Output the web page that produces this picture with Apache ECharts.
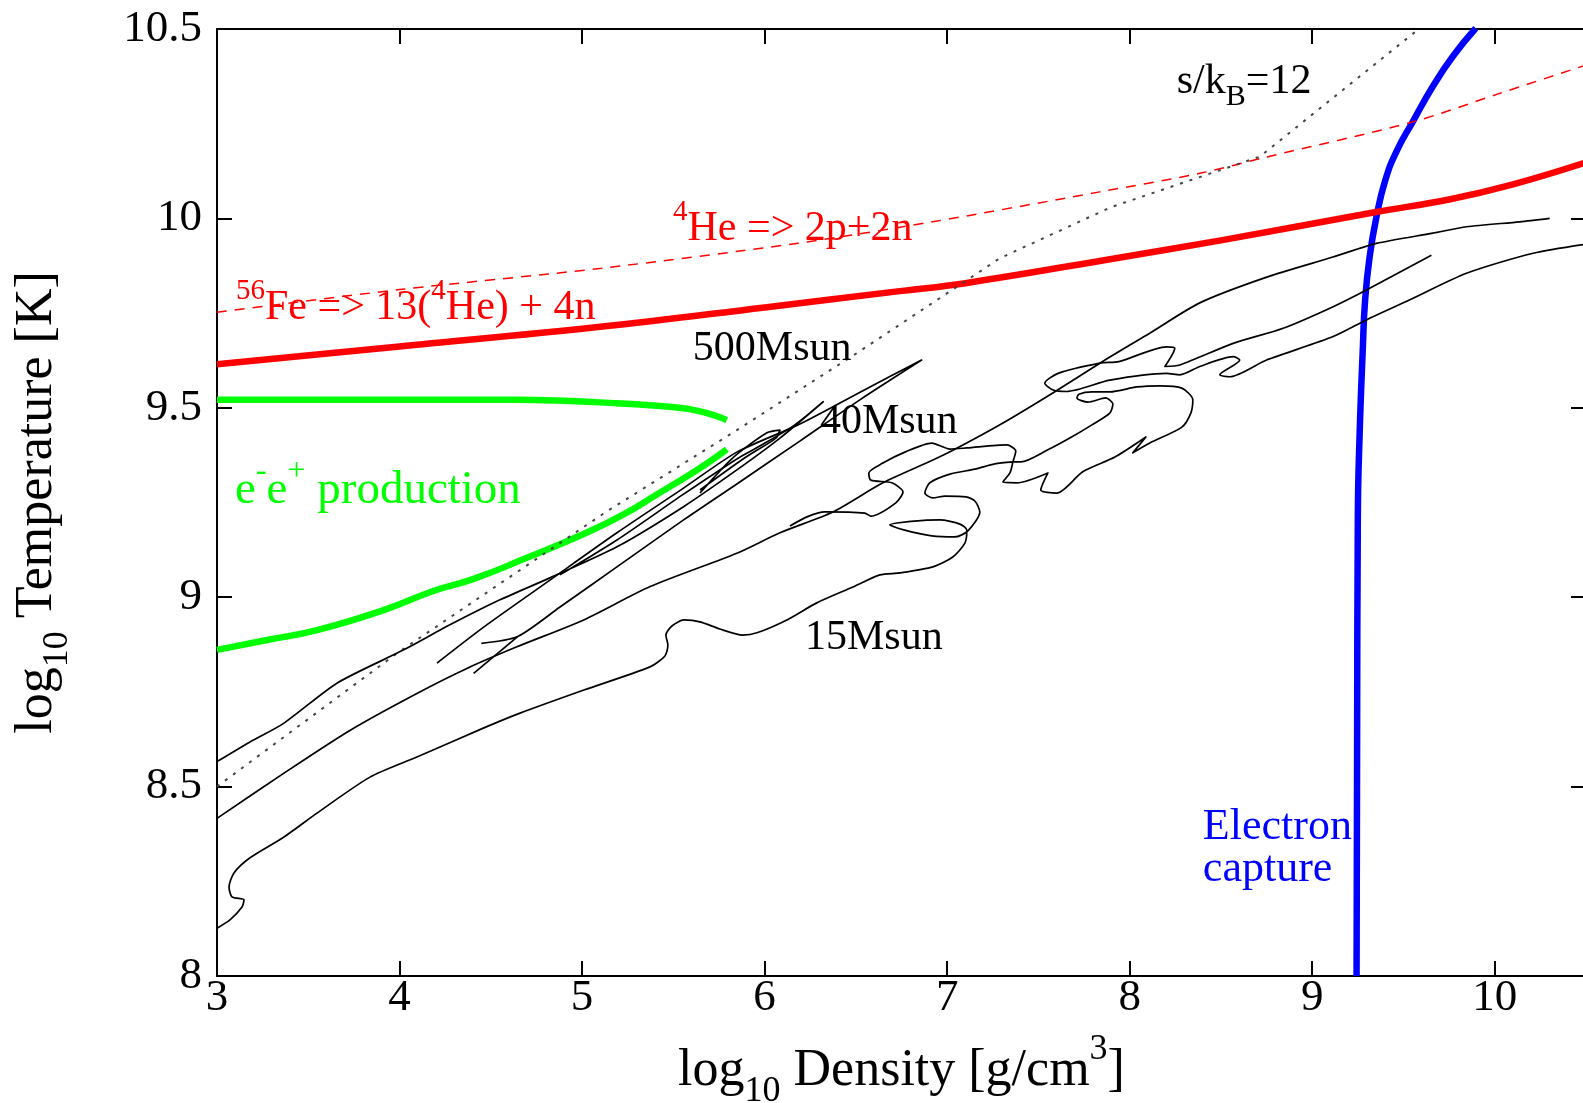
<!DOCTYPE html>
<html>
<head>
<meta charset="utf-8">
<script src="https://cdn.jsdelivr.net/npm/echarts@6/dist/echarts.min.js"></script>
<style>
  html, body { margin: 0; padding: 0; background: #ffffff; }
  #chart { width: 1583px; height: 1103px; }
</style>
</head>
<body>
<div id="chart"></div>
<script>
// ---- Axis ticks: log10 density [g/cm^3] and log10 temperature [K] ----
const densityTicks = [3, 4, 5, 6, 7, 8, 9, 10];
const temperatureTicks = [8, 8.5, 9, 9.5, 10, 10.5];

// ---- Boundary curves: [log10 rho, log10 T] ----
const fe56Dissociation = [[3.0,9.615],[4.0,9.662],[5.1,9.714],[6.0,9.765],[6.74,9.808],[7.1,9.829],[7.9,9.893],[8.5,9.942],[9.35,10.017],[9.75,10.05],[10.1,10.09],[10.5,10.148]];
const he4Dissociation = [[3.0,9.752],[4.0,9.812],[5.098,9.868],[6.175,9.934],[6.92,9.991],[7.836,10.07],[8.384,10.119],[8.75,10.162],[9.553,10.255],[10.027,10.33],[10.5,10.405]];
const entropy12 = [[3.0,8.50],[3.986,8.852],[5.134,9.226],[5.848,9.441],[6.504,9.644],[7.124,9.842],[7.289,9.895],[7.9,10.03],[8.713,10.163],[9.589,10.502]];
const pairUpper = [[3.0,9.521],[4.0,9.521],[4.643,9.521],[5.19,9.512],[5.556,9.499],[5.684,9.486],[5.793,9.468]];
const pairLower = [[5.793,9.390],[5.684,9.353],[5.571,9.318],[5.405,9.270],[5.24,9.222],[5.018,9.169],[4.687,9.102],[4.41,9.049],[4.189,9.017],[3.913,8.966],[3.548,8.913],[3.274,8.887],[3.0,8.861]];
const electronCapture = [[9.243,8.0],[9.246,8.6],[9.25,9.212],[9.26,9.433],[9.277,9.653],[9.29,9.785],[9.315,9.9],[9.352,10.004],[9.40,10.10],[9.46,10.175],[9.553,10.257],[9.663,10.35],[9.774,10.43],[9.896,10.502]];

// ---- Stellar evolution tracks (each track is a list of pieces) ----
const track15Msun = [
  [[3.000,8.126],[3.071,8.148],[3.137,8.182],[3.148,8.201],[3.082,8.209],[3.066,8.235],[3.093,8.272],[3.181,8.312],[3.367,8.367],[3.548,8.430],[3.838,8.525],[4.095,8.578],[4.462,8.655],[4.660,8.694],[5.010,8.755],[5.372,8.816],[5.454,8.845],[5.470,8.874],[5.459,8.900],[5.492,8.924],[5.558,8.940],[5.646,8.935],[5.755,8.916],[5.881,8.900],[5.958,8.906],[6.122,8.940],[6.286,8.985],[6.484,9.027],[6.632,9.059],[6.741,9.064],[6.922,9.080],[7.031,9.106],[7.097,9.143],[7.108,9.177],
   [7.070,9.193],[6.960,9.204],[6.823,9.201],[6.686,9.191],[6.768,9.177],[6.916,9.162],[7.042,9.159],[7.114,9.175],
   [7.179,9.225],[7.152,9.254],[7.103,9.265],[6.988,9.267],[6.922,9.262],[6.878,9.275],[6.905,9.302],[7.015,9.325],[7.152,9.338],[7.261,9.352],[7.360,9.357],
   [7.344,9.328],[7.305,9.304],[7.382,9.302],[7.552,9.328],[7.513,9.283],[7.601,9.275],[7.743,9.331],[7.919,9.370],[8.089,9.423],[8.017,9.381],[8.110,9.407],[8.286,9.449],[8.335,9.486],[8.346,9.521],[8.286,9.552],[8.165,9.558],[8.039,9.555],[7.891,9.542],[7.793,9.542],[7.722,9.536],[7.711,9.526],[7.771,9.515],[7.869,9.526],[7.908,9.510],[7.891,9.486],[7.793,9.455],[7.672,9.420],[7.552,9.389],[7.404,9.357],[7.360,9.357]]
];
const track40Msun = [
  [[3.000,8.416],[3.365,8.535],[3.730,8.649],[4.095,8.746],[4.369,8.812],[4.643,8.869],[5.009,8.940],[5.373,9.028],[5.848,9.116],[6.084,9.170],[6.374,9.225],[6.648,9.302],[6.922,9.362],[7.037,9.389],[7.289,9.455],[7.579,9.539],[7.891,9.634],[8.110,9.697],[8.384,9.777],[8.751,9.845],[9.113,9.898],[9.352,9.934],[9.661,9.961],[9.845,9.978],[10.137,9.991],[10.301,10.000]],
  [[6.139,9.188],[6.232,9.212],[6.330,9.225],[6.549,9.222],[6.582,9.214],[6.719,9.249],[6.758,9.278],[6.697,9.302],[6.582,9.309],[6.571,9.328],[6.648,9.354],[6.768,9.383],[6.916,9.407],[7.015,9.391],[7.108,9.394],[7.327,9.402],[7.376,9.386],[7.360,9.357]],
  [[9.653,9.903],[9.297,9.811],[9.115,9.767],[8.841,9.710],[8.567,9.670],[8.275,9.613],[8.193,9.609],[8.247,9.657],[8.202,9.661],[7.941,9.622],[7.837,9.618],[7.608,9.591],[7.535,9.565],[7.581,9.547],[7.654,9.543],[7.891,9.573],[8.202,9.591],[8.275,9.587],[8.384,9.609],[8.567,9.635],[8.603,9.626],[8.494,9.587],[8.549,9.582],[8.750,9.626],[9.115,9.688],[9.297,9.732],[9.535,9.785],[9.845,9.855],[10.210,9.908],[10.500,9.932]]
];
const track500Msun = [
  [[3.000,8.566],[3.181,8.618],[3.365,8.667],[3.657,8.773],[4.023,8.861],[4.276,8.927],[4.550,8.993],[4.824,9.051],[5.191,9.133],[5.556,9.239],[5.848,9.336],[6.084,9.420],[6.321,9.516],[6.166,9.455],[5.974,9.399],[5.848,9.365],[5.556,9.272],[5.191,9.151],[4.879,9.059]],
  [[4.448,8.878],[4.647,8.896],[4.879,8.974],[5.191,9.080],[5.556,9.204],[5.848,9.299],[6.193,9.412],[6.522,9.521],[6.860,9.626],[6.577,9.555],[6.193,9.457],[5.848,9.383],[5.556,9.288],[5.191,9.170],[4.824,9.045],[4.461,8.921],[4.205,8.826]],
  [[4.406,8.799],[4.647,8.896]],
  [[5.646,9.275],[5.826,9.368],[6.013,9.434],[6.084,9.441],[6.062,9.420],[5.892,9.368],[5.646,9.283]]
];

const SERIF = '"Liberation Serif", "Times New Roman", serif';

// Text annotations placed in data coordinates
const notes = [
  { at: [3.104, 9.763], color: '#ff0000', size: 42, lh: 62, small: 29,
    text: '{sup|56}{m|Fe => 13(}{sup|4}{m|He) + 4n}' },
  { at: [5.498, 9.971], color: '#ff0000', size: 42, lh: 62, small: 29,
    text: '{sup|4}{m|He => 2p+2n}' },
  { at: [3.099, 9.280], color: '#00ff00', size: 47, lh: 72, small: 32,
    text: '{m|e}{sup|-}{m|e}{sup|+}{m| production}' },
  { at: [5.607, 9.655], color: '#000000', size: 42, lh: 42, small: 29, text: '{m|500Msun}' },
  { at: [6.303, 9.463], color: '#000000', size: 42, lh: 42, small: 29, text: '{m|40Msun}' },
  { at: [6.221, 8.892], color: '#000000', size: 42, lh: 42, small: 29, text: '{m|15Msun}' },
  { at: [8.258, 10.360], color: '#000000', size: 42, lh: 60, small: 30,
    text: '{m|s/k}{sub|B}{m|=12}' },
  { at: [8.401, 8.393], color: '#0000ff', size: 44, lh: 44, small: 30, text: '{m|Electron}' },
  { at: [8.401, 8.282], color: '#0000ff', size: 44, lh: 44, small: 30, text: '{m|capture}' }
];

function richFor(color, size, lh, small) {
  return {
    m:   { fontFamily: SERIF, fontSize: size,  lineHeight: lh,    verticalAlign: 'middle', fill: color, color: color },
    sup: { fontFamily: SERIF, fontSize: small, lineHeight: small, verticalAlign: 'top',    fill: color, color: color },
    sub: { fontFamily: SERIF, fontSize: small, lineHeight: small, verticalAlign: 'bottom', fill: color, color: color }
  };
}

function curve(data, color, width, dash, smooth, z) {
  return {
    type: 'line', data: data, xAxisIndex: 0, yAxisIndex: 0,
    showSymbol: false, symbol: 'none', smooth: smooth, silent: true,
    animation: false, clip: true, z: z,
    lineStyle: { color: color, width: width, type: dash, cap: 'butt', join: 'round' }
  };
}

const series = [
  curve(pairUpper, '#00ff00', 6.5, 'solid', 0.4, 2),
  curve(pairLower, '#00ff00', 6.5, 'solid', 0.5, 2),
  curve(electronCapture, '#0000ff', 6.5, 'solid', 0.5, 3),
  curve(fe56Dissociation, '#ff0000', 6.5, 'solid', 0.4, 4),
  curve(he4Dissociation, '#ff0000', 1.5, [10, 8], 0.3, 4),
  curve(entropy12, '#444444', 2, [3, 7], false, 4)
];
[track15Msun, track40Msun, track500Msun].forEach(function (track) {
  track.forEach(function (piece) { series.push(curve(piece, '#000000', 1.7, 'solid', 0.25, 6)); });
});

const axisLineStyle = { color: '#000000', width: 2 };
const tickStyle = { inside: true, length: 15, lineStyle: { color: '#000000', width: 2 } };

const option = {
  backgroundColor: '#ffffff',
  animation: false,
  textStyle: { fontFamily: SERIF },
  grid: { left: 217, top: 29, width: 1369, height: 947, containLabel: false, outerBoundsMode: 'none' },
  xAxis: [
    {
      type: 'value', min: densityTicks[0], max: 10.5, interval: 1, position: 'bottom',
      axisLine: { show: true, onZero: false, lineStyle: axisLineStyle },
      axisTick: tickStyle,
      splitLine: { show: false },
      axisLabel: { color: '#000000', fontFamily: SERIF, fontSize: 45, margin: 0,
                   showMinLabel: true, showMaxLabel: false,
                   formatter: function (v) { return densityTicks.indexOf(v) >= 0 ? String(v) : ''; } },
      name: '{m|log}{sub|10}{m| Density [g/cm}{sup|3}{m|]}',
      nameLocation: 'middle', nameGap: 56,
      nameTextStyle: { color: '#000000', fontFamily: SERIF, fontSize: 52,
        rich: {
          m:   { fontFamily: SERIF, fontSize: 52, lineHeight: 78, verticalAlign: 'middle', color: '#000' },
          sub: { fontFamily: SERIF, fontSize: 36, lineHeight: 36, verticalAlign: 'bottom', color: '#000' },
          sup: { fontFamily: SERIF, fontSize: 36, lineHeight: 36, verticalAlign: 'top', color: '#000' }
        } }
    },
    {
      type: 'value', min: densityTicks[0], max: 10.5, interval: 1, position: 'top',
      axisLine: { show: true, onZero: false, lineStyle: axisLineStyle },
      axisTick: tickStyle, axisLabel: { show: false }, splitLine: { show: false }
    }
  ],
  yAxis: [
    {
      type: 'value', min: temperatureTicks[0], max: temperatureTicks[temperatureTicks.length - 1],
      interval: 0.5, position: 'left',
      axisLine: { show: true, onZero: false, lineStyle: axisLineStyle },
      axisTick: tickStyle,
      splitLine: { show: false },
      axisLabel: { color: '#000000', fontFamily: SERIF, fontSize: 45, margin: 15,
                   showMinLabel: true, showMaxLabel: true,
                   formatter: function (v) { return String(v); } },
      name: '{m|log}{sub|10}{m| Temperature [K]}',
      nameLocation: 'middle', nameGap: 141, nameRotate: 90,
      nameTextStyle: { color: '#000000', fontFamily: SERIF, fontSize: 52,
        rich: {
          m:   { fontFamily: SERIF, fontSize: 52, lineHeight: 78, verticalAlign: 'middle', color: '#000' },
          sub: { fontFamily: SERIF, fontSize: 36, lineHeight: 36, verticalAlign: 'bottom', color: '#000' }
        } }
    },
    {
      type: 'value', min: temperatureTicks[0], max: temperatureTicks[temperatureTicks.length - 1],
      interval: 0.5, position: 'right',
      axisLine: { show: true, onZero: false, lineStyle: axisLineStyle },
      axisTick: tickStyle, axisLabel: { show: false }, splitLine: { show: false }
    }
  ],
  series: series
};

const chart = echarts.init(document.getElementById('chart'), null, { renderer: 'canvas' });
chart.setOption(option);

const elements = notes.map(function (n) {
  const p = chart.convertToPixel({ xAxisIndex: 0, yAxisIndex: 0 }, n.at);
  return {
    type: 'text', x: p[0], y: p[1], silent: true, z: 10,
    style: {
      text: n.text, fill: n.color, fontFamily: SERIF, fontSize: n.size,
      align: 'left', verticalAlign: 'middle',
      rich: richFor(n.color, n.size, n.lh, n.small)
    }
  };
});
chart.setOption({ graphic: { elements: elements } });
</script>
</body>
</html>
